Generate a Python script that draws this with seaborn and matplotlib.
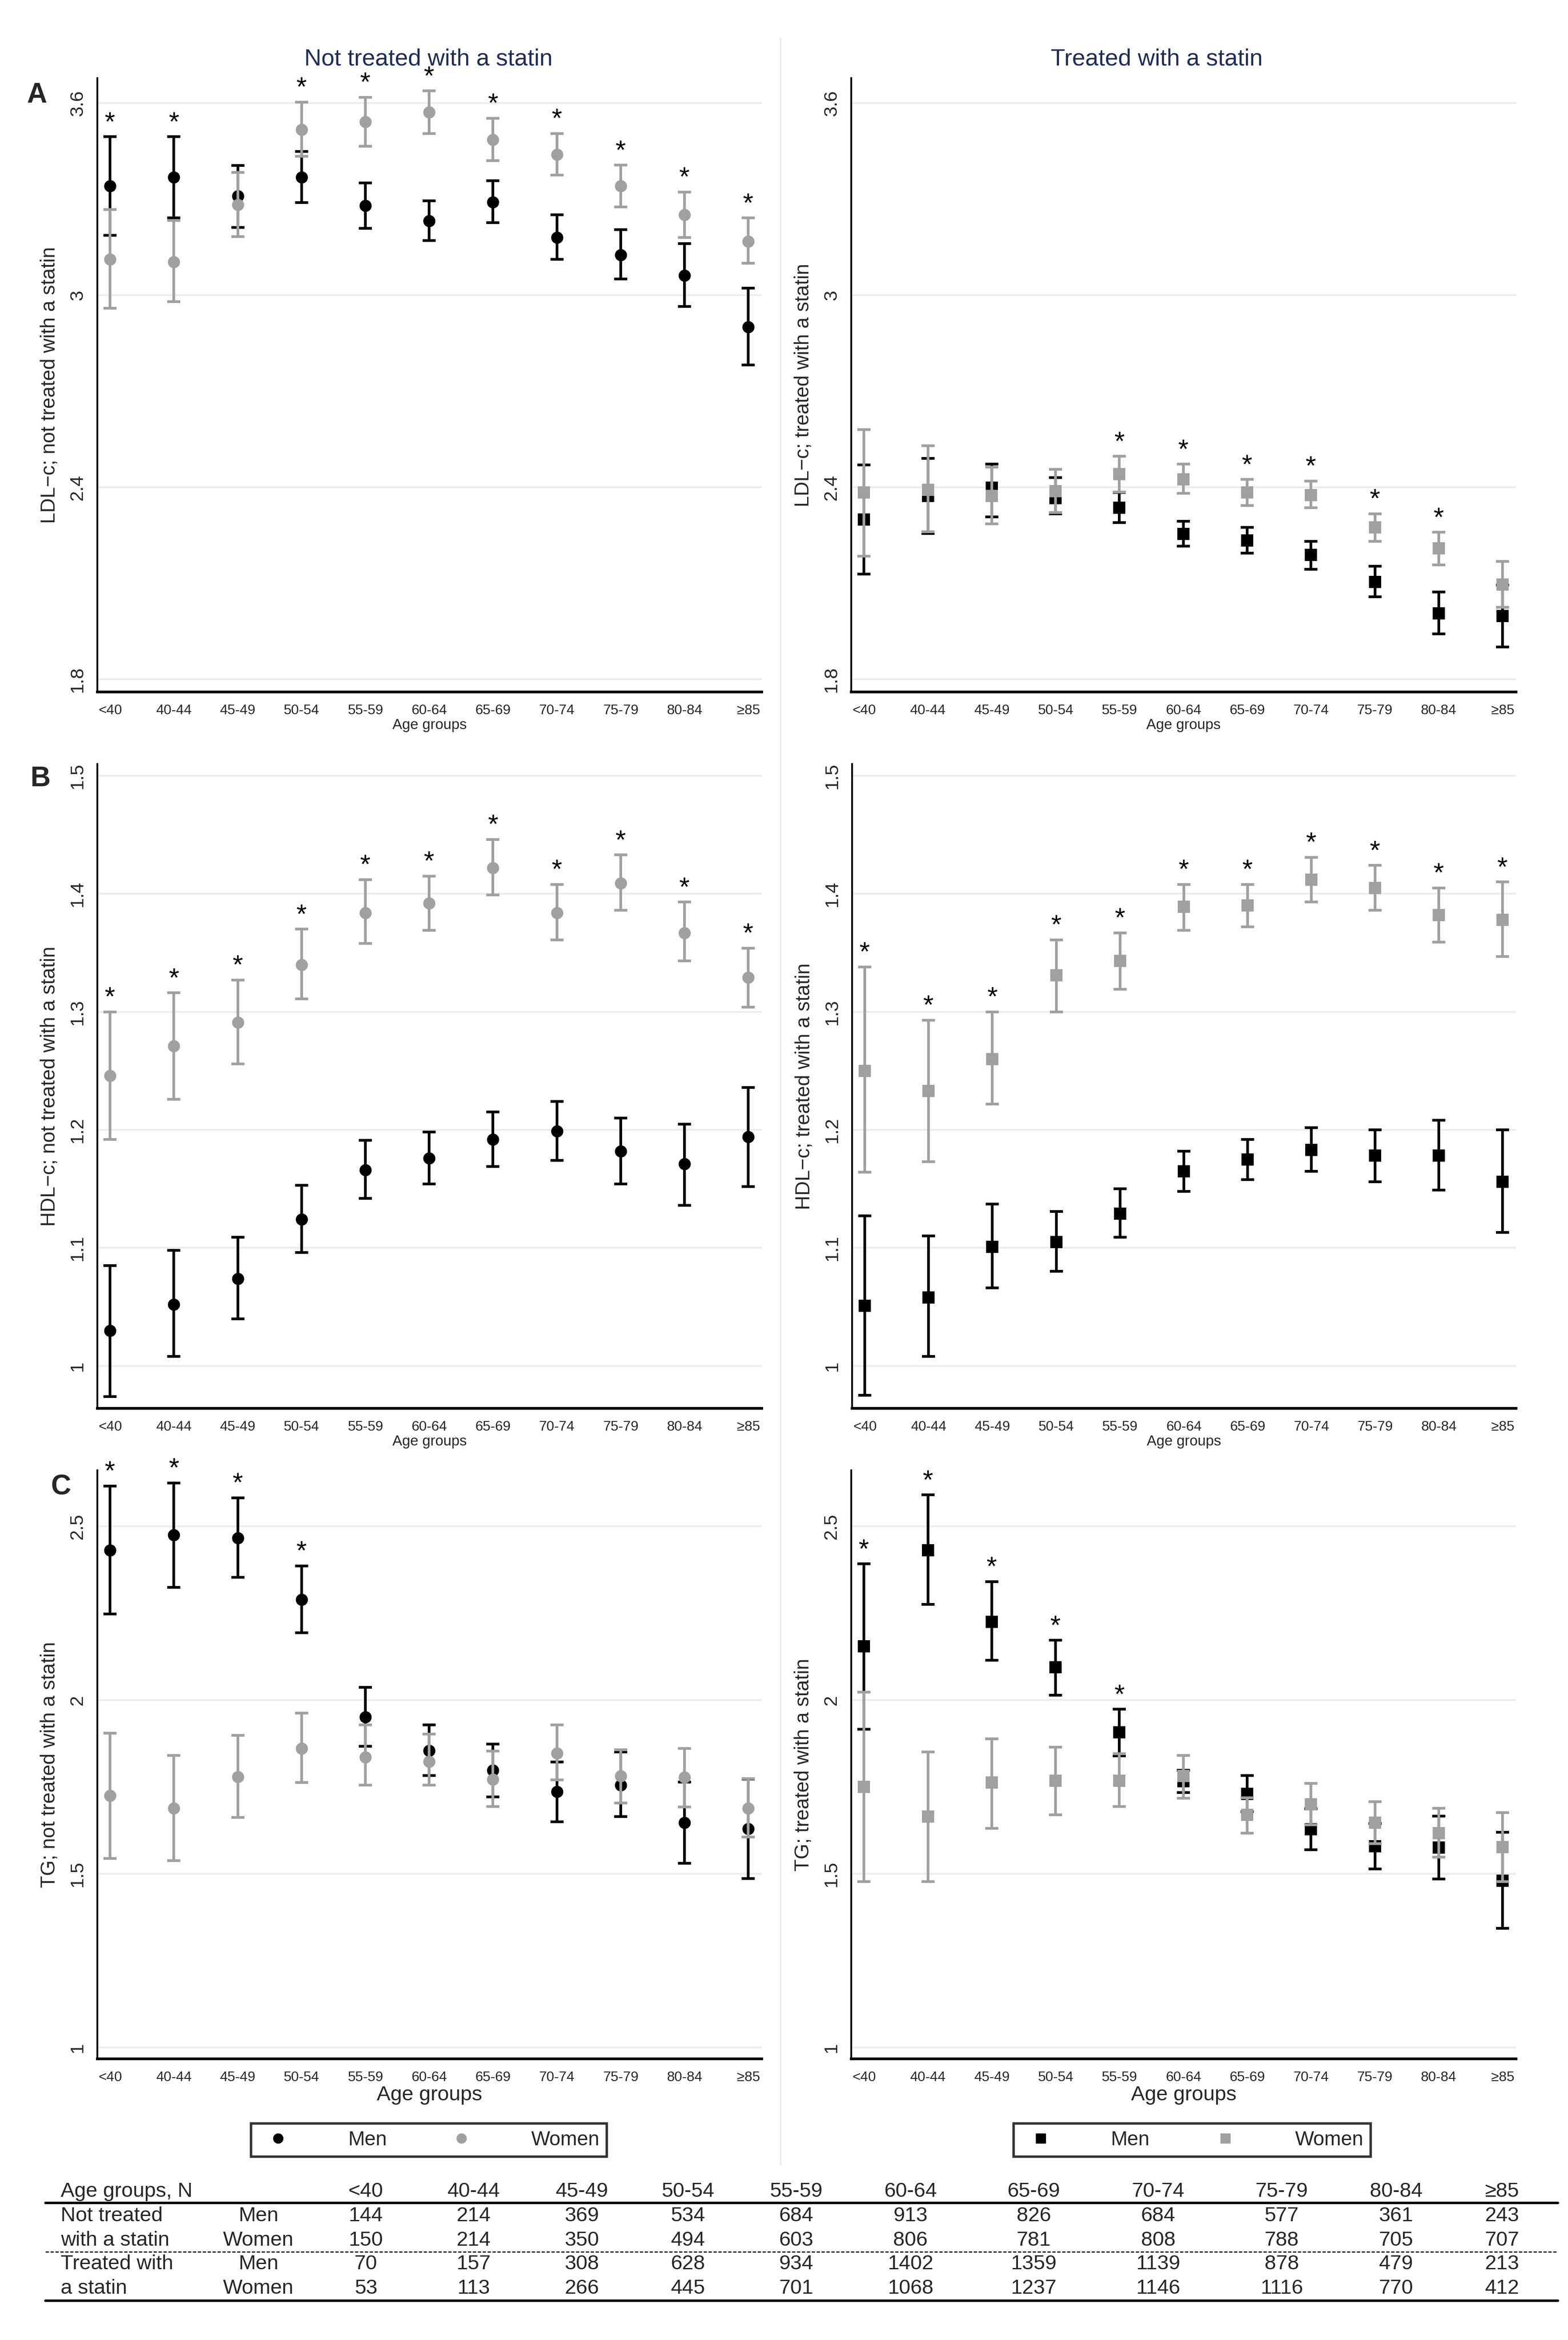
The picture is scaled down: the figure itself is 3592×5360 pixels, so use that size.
import numpy as np
import pandas as pd
import matplotlib
matplotlib.use("Agg")
import matplotlib.pyplot as plt
import seaborn as sns
from matplotlib.lines import Line2D

# ---------------- data ----------------
ages = ["<40", "40-44", "45-49", "50-54", "55-59", "60-64", "65-69", "70-74", "75-79", "80-84", "\u226585"]

# LDL-c, not treated
ldl_nt_men = [3.341, 3.368, 3.309, 3.368, 3.279, 3.232, 3.291, 3.180, 3.125, 3.062, 2.900]
ldl_nt_men_lo = [3.187, 3.241, 3.212, 3.289, 3.209, 3.170, 3.227, 3.112, 3.050, 2.964, 2.782]
ldl_nt_men_hi = [3.495, 3.495, 3.405, 3.449, 3.350, 3.294, 3.357, 3.251, 3.204, 3.161, 3.022]
ldl_nt_wom = [3.112, 3.104, 3.282, 3.517, 3.541, 3.572, 3.486, 3.439, 3.341, 3.251, 3.168]
ldl_nt_wom_lo = [2.959, 2.979, 3.183, 3.434, 3.465, 3.505, 3.420, 3.375, 3.275, 3.180, 3.100]
ldl_nt_wom_hi = [3.267, 3.233, 3.383, 3.603, 3.618, 3.638, 3.553, 3.505, 3.406, 3.322, 3.241]
ldl_nt_star = [1, 1, 0, 1, 1, 1, 1, 1, 1, 1, 1]

# LDL-c, treated
ldl_t_men = [2.299, 2.372, 2.399, 2.366, 2.336, 2.254, 2.234, 2.188, 2.104, 2.005, 1.998]
ldl_t_men_lo = [2.128, 2.255, 2.307, 2.317, 2.289, 2.215, 2.194, 2.144, 2.057, 1.941, 1.901]
ldl_t_men_hi = [2.470, 2.490, 2.472, 2.430, 2.384, 2.293, 2.274, 2.231, 2.153, 2.072, 2.094]
ldl_t_wom = [2.384, 2.391, 2.372, 2.388, 2.441, 2.425, 2.384, 2.375, 2.274, 2.209, 2.095]
ldl_t_wom_lo = [2.184, 2.261, 2.285, 2.320, 2.385, 2.381, 2.342, 2.335, 2.231, 2.157, 2.024]
ldl_t_wom_hi = [2.580, 2.530, 2.462, 2.456, 2.496, 2.472, 2.424, 2.419, 2.317, 2.259, 2.168]
ldl_t_star = [0, 0, 0, 0, 1, 1, 1, 1, 1, 1, 0]

# HDL-c, not treated
hdl_nt_men = [1.030, 1.052, 1.074, 1.124, 1.166, 1.176, 1.192, 1.199, 1.182, 1.171, 1.194]
hdl_nt_men_lo = [0.974, 1.008, 1.040, 1.096, 1.142, 1.154, 1.169, 1.174, 1.154, 1.136, 1.152]
hdl_nt_men_hi = [1.085, 1.098, 1.109, 1.153, 1.191, 1.198, 1.215, 1.224, 1.210, 1.205, 1.236]
hdl_nt_wom = [1.246, 1.271, 1.291, 1.340, 1.384, 1.392, 1.422, 1.384, 1.409, 1.367, 1.329]
hdl_nt_wom_lo = [1.192, 1.226, 1.256, 1.311, 1.358, 1.369, 1.399, 1.361, 1.386, 1.343, 1.304]
hdl_nt_wom_hi = [1.300, 1.316, 1.327, 1.370, 1.412, 1.415, 1.446, 1.408, 1.433, 1.393, 1.354]
hdl_nt_star = [1, 1, 1, 1, 1, 1, 1, 1, 1, 1, 1]

# HDL-c, treated
hdl_t_men = [1.051, 1.058, 1.101, 1.105, 1.129, 1.165, 1.175, 1.183, 1.178, 1.178, 1.156]
hdl_t_men_lo = [0.975, 1.008, 1.066, 1.080, 1.109, 1.148, 1.158, 1.165, 1.156, 1.149, 1.113]
hdl_t_men_hi = [1.127, 1.110, 1.137, 1.131, 1.150, 1.182, 1.192, 1.202, 1.200, 1.208, 1.200]
hdl_t_wom = [1.250, 1.233, 1.260, 1.331, 1.343, 1.389, 1.390, 1.412, 1.405, 1.382, 1.378]
hdl_t_wom_lo = [1.164, 1.173, 1.222, 1.300, 1.319, 1.369, 1.372, 1.393, 1.386, 1.359, 1.347]
hdl_t_wom_hi = [1.338, 1.293, 1.300, 1.361, 1.367, 1.408, 1.408, 1.431, 1.424, 1.405, 1.410]
hdl_t_star = [1, 1, 1, 1, 1, 1, 1, 1, 1, 1, 1]

# TG, not treated
tg_nt_men = [2.431, 2.475, 2.466, 2.289, 1.951, 1.854, 1.798, 1.736, 1.755, 1.647, 1.629]
tg_nt_men_lo = [2.247, 2.324, 2.353, 2.193, 1.867, 1.782, 1.721, 1.650, 1.665, 1.530, 1.486]
tg_nt_men_hi = [2.616, 2.625, 2.582, 2.386, 2.037, 1.928, 1.873, 1.822, 1.850, 1.764, 1.772]
tg_nt_wom = [1.725, 1.688, 1.779, 1.861, 1.835, 1.823, 1.771, 1.847, 1.781, 1.777, 1.688]
tg_nt_wom_lo = [1.544, 1.537, 1.662, 1.762, 1.755, 1.755, 1.693, 1.770, 1.703, 1.692, 1.605]
tg_nt_wom_hi = [1.905, 1.841, 1.898, 1.962, 1.928, 1.902, 1.853, 1.928, 1.857, 1.860, 1.774]
tg_nt_star = [1, 1, 1, 1, 0, 0, 0, 0, 0, 0, 0]

# TG, treated
tg_t_men = [2.154, 2.431, 2.225, 2.094, 1.907, 1.766, 1.730, 1.628, 1.579, 1.575, 1.480]
tg_t_men_lo = [1.916, 2.275, 2.114, 2.014, 1.839, 1.733, 1.678, 1.569, 1.514, 1.485, 1.343]
tg_t_men_hi = [2.392, 2.590, 2.341, 2.172, 1.973, 1.798, 1.782, 1.687, 1.644, 1.666, 1.619]
tg_t_wom = [1.750, 1.665, 1.763, 1.768, 1.768, 1.781, 1.670, 1.700, 1.647, 1.617, 1.576]
tg_t_wom_lo = [1.477, 1.477, 1.630, 1.670, 1.693, 1.717, 1.617, 1.640, 1.587, 1.548, 1.477]
tg_t_wom_hi = [2.022, 1.851, 1.888, 1.864, 1.846, 1.841, 1.718, 1.760, 1.707, 1.688, 1.676]
tg_t_star = [1, 1, 1, 1, 1, 0, 0, 0, 0, 0, 0]

# number of participants per group
n_nt_men = [144, 214, 369, 534, 684, 913, 826, 684, 577, 361, 243]
n_nt_wom = [150, 214, 350, 494, 603, 806, 781, 808, 788, 705, 707]
n_t_men = [70, 157, 308, 628, 934, 1402, 1359, 1139, 878, 479, 213]
n_t_wom = [53, 113, 266, 445, 701, 1068, 1237, 1146, 1116, 770, 412]

# ---------------- style ----------------
sns.set_theme(style="white")
plt.rcParams["font.family"] = ["Liberation Sans", "DejaVu Sans"]

MEN_C = "#000000"
WOM_C = "#a0a0a0"
TITLE_C = "#1f2d55"
GRID_C = "#ececec"

W, H = 3592, 5360
fig = plt.figure(figsize=(W / 100, H / 100), dpi=100)


def box(x0, y0, x1, y1):
    # pixel box (top-left origin) -> figure fraction rect
    return [x0 / W, 1 - y1 / H, (x1 - x0) / W, (y1 - y0) / H]


panels = [
    # (rect, ylim, yticks, ylabel, marker, data, stars, letter + its pixel position, big xlabel)
    (box(223, 179, 1745, 1585), (1.76, 3.678), [1.8, 2.4, 3.0, 3.6], "LDL\u2212c; not treated with a statin", "o",
     (ldl_nt_men, ldl_nt_men_lo, ldl_nt_men_hi, ldl_nt_wom, ldl_nt_wom_lo, ldl_nt_wom_hi), ldl_nt_star, ("A", 84, 218), False),
    (box(1950, 179, 3473, 1585), (1.76, 3.678), [1.8, 2.4, 3.0, 3.6], "LDL\u2212c; treated with a statin", "s",
     (ldl_t_men, ldl_t_men_lo, ldl_t_men_hi, ldl_t_wom, ldl_t_wom_lo, ldl_t_wom_hi), ldl_t_star, None, False),
    (box(223, 1750, 1745, 3226), (0.964, 1.51), [1.0, 1.1, 1.2, 1.3, 1.4, 1.5], "HDL\u2212c; not treated with a statin", "o",
     (hdl_nt_men, hdl_nt_men_lo, hdl_nt_men_hi, hdl_nt_wom, hdl_nt_wom_lo, hdl_nt_wom_hi), hdl_nt_star, ("B", 93, 1784), False),
    (box(1952, 1750, 3473, 3226), (0.964, 1.51), [1.0, 1.1, 1.2, 1.3, 1.4, 1.5], "HDL\u2212c; treated with a statin", "s",
     (hdl_t_men, hdl_t_men_lo, hdl_t_men_hi, hdl_t_wom, hdl_t_wom_lo, hdl_t_wom_hi), hdl_t_star, None, False),
    (box(223, 3368, 1745, 4716), (0.967, 2.661), [1.0, 1.5, 2.0, 2.5], "TG; not treated with a statin", "o",
     (tg_nt_men, tg_nt_men_lo, tg_nt_men_hi, tg_nt_wom, tg_nt_wom_lo, tg_nt_wom_hi), tg_nt_star, ("C", 139, 3406), True),
    (box(1950, 3368, 3473, 4716), (0.967, 2.661), [1.0, 1.5, 2.0, 2.5], "TG; treated with a statin", "s",
     (tg_t_men, tg_t_men_lo, tg_t_men_hi, tg_t_wom, tg_t_wom_lo, tg_t_wom_hi), tg_t_star, None, True),
]

axes = []
for rect, ylim, yticks, ylabel, marker, vals, star, letter, big in panels:
    ax = fig.add_axes(rect)
    axes.append(ax)
    m, mlo, mhi, w, wlo, whi = [np.array(v) for v in vals]
    pos = np.arange(len(ages))

    for yt in yticks:
        ax.axhline(yt, color=GRID_C, lw=3, zorder=0)

    ax.errorbar(pos, m, yerr=[m - mlo, mhi - m], fmt="none", ecolor=MEN_C,
                elinewidth=4.5, capsize=11, capthick=4.5, zorder=2)
    df_m = pd.DataFrame({"pos": pos, "val": m, "Sex": "Men"})
    sns.scatterplot(data=df_m, x="pos", y="val", color=MEN_C, marker=marker, s=400,
                    linewidth=0, ax=ax, zorder=3, legend=False)

    ax.errorbar(pos, w, yerr=[w - wlo, whi - w], fmt="none", ecolor=WOM_C,
                elinewidth=4.5, capsize=11, capthick=4.5, zorder=4)
    df_w = pd.DataFrame({"pos": pos, "val": w, "Sex": "Women"})
    sns.scatterplot(data=df_w, x="pos", y="val", color=WOM_C, marker=marker, s=400,
                    linewidth=0, ax=ax, zorder=5, legend=False)

    top = np.maximum(mhi, whi)
    for i, s in enumerate(star):
        if s:
            ax.annotate("*", (pos[i], top[i]), xytext=(0, 22), textcoords="offset points",
                        ha="center", va="center", fontsize=44, color="black")

    ax.set_xlim(-0.2, 10.21)
    ax.set_ylim(*ylim)
    ax.set_xticks(pos)
    ax.set_xticklabels(ages, fontsize=23)
    ax.set_yticks(yticks)
    ax.set_yticklabels([f"{t:g}" for t in yticks], fontsize=31, rotation=90, va="center")
    ax.tick_params(axis="x", direction="out", length=14, width=3, color="black", pad=6)
    ax.tick_params(axis="y", direction="out", length=12, width=3, color="black", pad=6)
    for side in ["top", "right"]:
        ax.spines[side].set_visible(False)
    ax.spines["left"].set_linewidth(3)
    ax.spines["bottom"].set_linewidth(4.5)
    ax.spines["left"].set_color("black")
    ax.spines["bottom"].set_color("black")
    ax.set_ylabel(ylabel, fontsize=33)
    ax.yaxis.set_label_coords(-0.057, 0.5)
    ax.set_xlabel("Age groups", fontsize=34 if big else 24, labelpad=2)
    ax.grid(False)
    if letter:
        fig.text(letter[1] / W, 1 - letter[2] / H, letter[0], fontsize=46, fontweight="bold",
                 ha="center", va="center")

fig.text(981 / W, 1 - 135 / H, "Not treated with a statin", fontsize=39, color=TITLE_C,
         ha="center", va="center")
fig.text(2650 / W, 1 - 135 / H, "Treated with a statin", fontsize=39, color=TITLE_C,
         ha="center", va="center")

# separator between the two columns
fig.add_artist(Line2D([1788 / W, 1788 / W], [1 - 87 / H, 1 - 4958 / H], color="#e6ecee", lw=2.5))

# legends below the TG panels
for ax, marker, x0, x1 in [(axes[4], "o", 575, 1390), (axes[5], "s", 2322, 3140)]:
    handles = [Line2D([], [], color=MEN_C, marker=marker, ls="none", markersize=16),
               Line2D([], [], color=WOM_C, marker=marker, ls="none", markersize=16)]
    leg = fig.legend(handles, ["Men", "Women"], loc="center", ncol=2,
                     bbox_to_anchor=(x0 / W, 1 - 4949 / H, (x1 - x0) / W, 94 / H),
                     mode="expand", fontsize=33, frameon=True, fancybox=False,
                     handletextpad=2.5, borderpad=0.35, borderaxespad=0)
    leg.get_frame().set_edgecolor("black")
    leg.get_frame().set_linewidth(4)

# table of N
tab = fig.add_axes([0, 0, 1, 1], facecolor="none")
tab.set_xlim(0, W)
tab.set_ylim(H, 0)
tab.axis("off")
col_x = [838, 1085, 1333, 1576, 1824, 2086, 2368, 2653, 2936, 3198, 3441]
tfont = dict(fontsize=34, family=["Liberation Sans Narrow", "Liberation Sans", "DejaVu Sans"])
tab.text(139, 5020, "Age groups, N", ha="left", va="center", **tfont)
for x, a in zip(col_x, ages):
    tab.text(x, 5020, a, ha="center", va="center", **tfont)
rows = [(5076, "Not treated", "Men", n_nt_men), (5132, "with a statin", "Women", n_nt_wom),
        (5186, "Treated with", "Men", n_t_men), (5242, "a statin", "Women", n_t_wom)]
for y, lab, sex, vals in rows:
    tab.text(139, y, lab, ha="left", va="center", **tfont)
    tab.text(592, y, sex, ha="center", va="center", **tfont)
    for x, v in zip(col_x, vals):
        tab.text(x, y, str(v), ha="center", va="center", **tfont)
tab.plot([104, 3569], [5046, 5046], color="black", lw=4)
tab.plot([104, 3569], [5158, 5158], color="black", lw=1.8, ls=(0, (3, 1.5)))
tab.plot([104, 3569], [5270, 5270], color="black", lw=4)

fig.savefig("out.png", dpi=100, facecolor="white")
